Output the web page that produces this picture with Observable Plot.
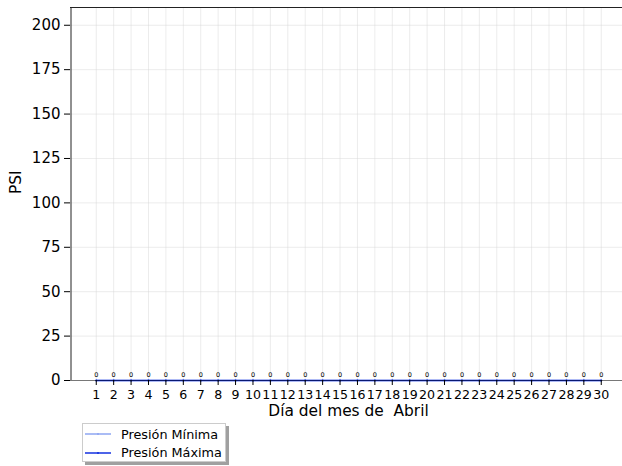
<!DOCTYPE html>
<html>
<head>
<meta charset="utf-8">
<script src="https://cdn.jsdelivr.net/npm/d3@7"></script>
<script src="https://cdn.jsdelivr.net/npm/@observablehq/plot@0.6"></script>
<style>
  html, body { margin: 0; padding: 0; background: #fff; overflow: hidden; }
  body { width: 622px; height: 466px; position: relative; font-family: "DejaVu Sans", sans-serif; }
  #legend {
    position: absolute; left: 82px; top: 423px; width: 142px; height: 37px;
    border: 1px solid #cccccc; background: #fff; box-shadow: 3px 3px 0 #a0a0a0;
    font-size: 12.8px; color: #000;
  }
  .row { display: flex; align-items: center; height: 18.5px; padding-left: 2px; }
  .row:first-child { margin-top: 1px; }
  .row svg { margin-right: 10px; }
</style>
</head>
<body>
<div id="chart"></div>
<div id="legend"></div>
<script>
const days = [1,2,3,4,5,6,7,8,9,10,11,12,13,14,15,16,17,18,19,20,21,22,23,24,25,26,27,28,29,30];
const presionMinima = [0,0,0,0,0,0,0,0,0,0,0,0,0,0,0,0,0,0,0,0,0,0,0,0,0,0,0,0,0,0];
const presionMaxima = [0,0,0,0,0,0,0,0,0,0,0,0,0,0,0,0,0,0,0,0,0,0,0,0,0,0,0,0,0,0];
const yTicks = [0,25,50,75,100,125,150,175,200];
const seriesNames = ["Presión Mínima", "Presión Máxima"];
const seriesColors = ["#8ea6f2", "#1330e0"];
const xLabel = "Día del mes de\u00a0\u00a0Abril";
const yLabel = "PSI";

const minData = days.map((d, i) => ({day: d, value: presionMinima[i]}));
const maxData = days.map((d, i) => ({day: d, value: presionMaxima[i]}));

const chart = Plot.plot({
  width: 622,
  height: 420,
  marginLeft: 70,
  marginRight: 0,
  marginTop: 7,
  marginBottom: 40,
  style: {fontFamily: "DejaVu Sans, sans-serif", fontSize: "14px", color: "#000", background: "#fff"},
  x: {domain: [-0.45, 31.45], range: [70.5, 626]},
  y: {domain: [0, 210], range: [380, 7]},
  marks: [
    Plot.gridX(days, {stroke: "#d8d8d8", strokeOpacity: 0.6, strokeWidth: 0.8}),
    Plot.gridY(yTicks, {stroke: "#d8d8d8", strokeOpacity: 0.6, strokeWidth: 0.8}),
    Plot.line(minData, {x: "day", y: "value", stroke: seriesColors[0], strokeWidth: 1.5}),
    Plot.dot(minData, {x: "day", y: "value", fill: seriesColors[0], r: 1}),
    Plot.line(maxData, {x: "day", y: "value", stroke: seriesColors[1], strokeWidth: 1.5}),
    Plot.dot(maxData, {x: "day", y: "value", fill: seriesColors[1], r: 1}),
    Plot.text(maxData, {x: "day", y: "value", text: d => String(d.value), dy: -6, fontSize: 6.5, fill: "#000"}),
    Plot.ruleY([0], {stroke: "#000", strokeOpacity: 0.55, strokeWidth: 0.9}),
    Plot.ruleY([210], {stroke: "#222", strokeWidth: 1}),
    Plot.ruleX([-0.45], {y1: 0, y2: 210, stroke: "#222", strokeWidth: 1}),
    Plot.axisY(yTicks, {tickSize: 6, tickPadding: 4, fontSize: 15, label: null}),
    Plot.axisX(days, {tickSize: 5, tickPadding: 5, fontSize: 12.6, tickFormat: d => String(d), label: null}),
    Plot.text([yLabel], {frameAnchor: "left", rotate: -90, dx: -54, fontSize: 15.4, fill: "#000"}),
    Plot.text([xLabel], {frameAnchor: "bottom", dy: 35, dx: 2, fontSize: 15.4, fill: "#000"})
  ]
});
document.getElementById("chart").appendChild(chart);

const legend = document.getElementById("legend");
seriesNames.forEach((name, i) => {
  const row = document.createElement("div");
  row.className = "row";
  row.innerHTML = `<svg width="26" height="6"><line x1="0" y1="3" x2="26" y2="3" stroke="${seriesColors[i]}" stroke-width="1.5"/><circle cx="13" cy="3" r="1" fill="${seriesColors[i]}"/></svg><span>${name}</span>`;
  legend.appendChild(row);
});
</script>
</body>
</html>
